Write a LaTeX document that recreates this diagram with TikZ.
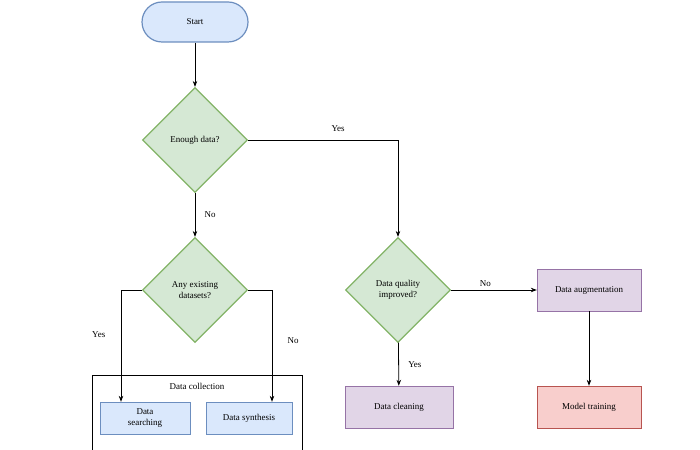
\documentclass[tikz,border=0pt]{standalone}
\usepackage{fontspec}
\setmainfont{Liberation Serif}
\usetikzlibrary{shapes.geometric,arrows.meta}
\definecolor{bfill}{HTML}{DAE8FC}\definecolor{bline}{HTML}{6C8EBF}
\definecolor{gfill}{HTML}{D5E8D4}\definecolor{gline}{HTML}{82B366}
\definecolor{pfill}{HTML}{E1D5E7}\definecolor{pline}{HTML}{9673A6}
\definecolor{rfill}{HTML}{F8CECC}\definecolor{rline}{HTML}{B85450}
\tikzset{
	decide/.style={diamond, aspect=1, draw=gline, fill=gfill, line width=1.2pt, minimum width=105bp, minimum height=105bp, inner sep=0pt, align=center, font=\small},
	step/.style={rectangle, draw=#1line, fill=#1fill, minimum width=104bp, minimum height=42bp, align=center, font=\small},
	flow/.style={-{Stealth[length=6pt]}, thick},
	lbl/.style={font=\small}
}
\begin{document}
\begin{tikzpicture}[x=1bp, y=-1bp]
	\useasboundingbox (0,0) rectangle (700,450);
	% start and decisions
	\node[draw=bline, fill=bfill, line width=1.2pt, rounded corners=20bp, minimum width=106bp, minimum height=40bp, font=\small] (start) at (195,22) {Start};
	\node[decide] (enough) at (195,140) {Enough data?};
	\node[decide] (exist) at (195,290) {Any existing\\datasets?};
	\node[decide] (quality) at (398,290) {Data quality\\improved?};
	% data collection group
	\draw (92,375) rectangle (302,452);
	\node[font=\small] (coll) at (197,386) {Data collection};
	\node[step=b, minimum width=90bp, minimum height=32bp] (search) at (145,418) {Data\\searching};
	\node[step=b, minimum width=86bp, minimum height=32bp] (synth) at (249,418) {Data synthesis};
	% steps
	\node[step=p] (augment) at (589,290) {Data augmentation};
	\node[step=p, minimum width=108bp] (clean) at (399,407) {Data cleaning};
	\node[step=r] (train) at (589,407) {Model training};
	% turn points
	\coordinate (yesturn) at (121,290);
	\coordinate (noturn) at (272,290);
	% connectors
	\draw[flow] (start) -- (enough);
	\draw[flow] (enough.east) -| (quality.north) node[lbl, pos=0.3, above=5bp] {Yes};
	\draw[flow] (enough) -- (exist) node[lbl, midway, right=6bp] {No};
	\draw[flow] (exist.west) -- (yesturn) -- (yesturn |- search.north) node[lbl, pos=0.4, left=12bp] {Yes};
	\draw[flow] (exist.east) -- (noturn) -- (noturn |- synth.north) node[lbl, pos=0.45, right=12bp] {No};
	\draw[flow] (quality.east) -- (augment.west) node[lbl, pos=0.4, above] {No};
	\draw[flow] (quality) -- (clean) node[lbl, midway, right=6bp] {Yes};
	\draw[flow] (augment) -- (train);
\end{tikzpicture}
\end{document}
